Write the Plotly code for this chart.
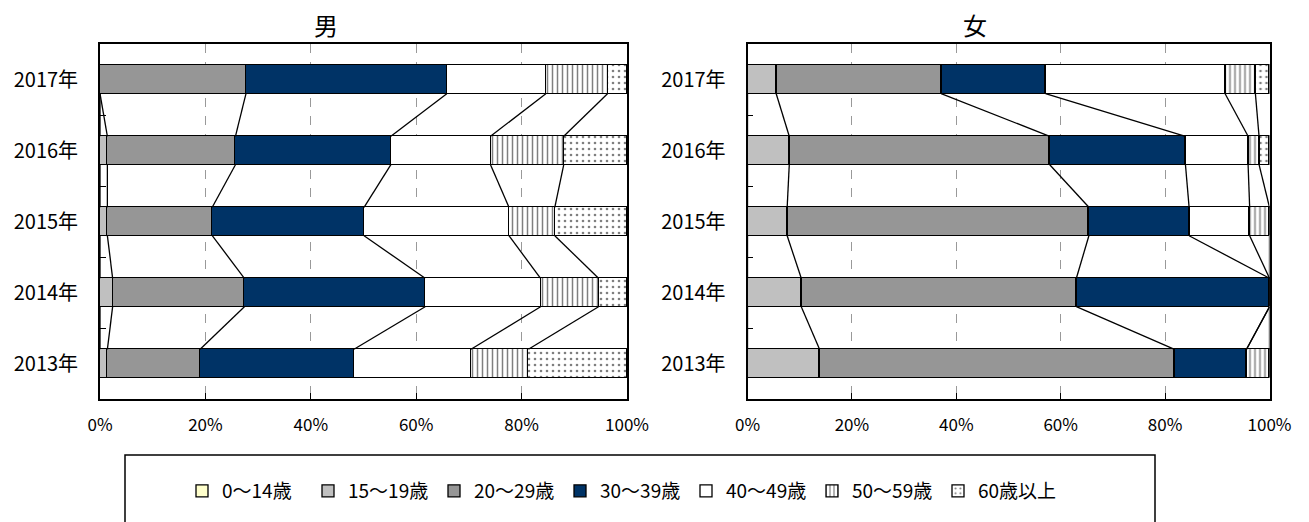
import plotly.graph_objects as go

W, H = 1309, 522

years = ['2013年', '2014年', '2015年', '2016年', '2017年']
groups = ['0～14歳', '15～19歳', '20～29歳', '30～39歳', '40～49歳', '50～59歳', '60歳以上']
x_ticks = [0, 20, 40, 60, 80, 100]
x_labels = ['0%', '20%', '40%', '60%', '80%', '100%']

# 男 (shares in %, years 2013..2017)
m_0_14 = [0, 0, 0, 0, 0]
m_15_19 = [1.4, 2.4, 1.4, 1.4, 0]
m_20_29 = [17.6, 25.0, 19.9, 24.3, 27.7]
m_30_39 = [29.2, 34.3, 28.8, 29.5, 38.1]
m_40_49 = [22.2, 21.9, 27.5, 18.9, 18.8]
m_50_59 = [10.9, 11.0, 8.7, 13.9, 11.7]
m_60 = [18.7, 5.4, 13.7, 12.0, 3.7]

# 女
f_0_14 = [0, 0, 0, 0, 0]
f_15_19 = [13.8, 10.3, 7.6, 8.0, 5.5]
f_20_29 = [68.0, 52.7, 57.8, 49.9, 31.6]
f_30_39 = [13.8, 37.0, 19.2, 26.0, 20.0]
f_40_49 = [0, 0, 11.6, 12.0, 34.4]
f_50_59 = [4.4, 0, 3.8, 2.1, 5.8]
f_60 = [0, 0, 0, 2.0, 2.7]

male = [m_0_14, m_15_19, m_20_29, m_30_39, m_40_49, m_50_59, m_60]
female = [f_0_14, f_15_19, f_20_29, f_30_39, f_40_49, f_50_59, f_60]

colors = ['#FFFFCC', '#C0C0C0', '#969696', '#003366', '#FFFFFF', '#FFFFFF', '#FFFFFF']
pats = [('', 8, 0.3), ('', 8, 0.3), ('', 8, 0.3), ('', 8, 0.3), ('', 8, 0.3),
        ('|', 5, 0.3), ('.', 6, 0.15)]

FONT = 'Noto Sans CJK JP, sans-serif'
BW = 0.4
pos = list(range(len(years)))

fig = go.Figure()


def add_side(data, xa, ya, show):
    for k, vals in enumerate(data):
        shp, sz, sol = pats[k]
        fig.add_trace(go.Bar(
            x=vals, y=pos, orientation='h', name=groups[k],
            width=BW, xaxis=xa, yaxis=ya,
            legendgroup=groups[k], showlegend=show,
            marker=dict(color=colors[k],
                        line=dict(color='black', width=1.3),
                        pattern=dict(shape=shp, fgcolor='black',
                                     bgcolor=colors[k], size=sz, solidity=sol)),
        ))
    # series lines between bars
    lx, ly = [], []
    cum = [0] * len(years)
    for k in range(len(data) - 1):
        cum = [c + v for c, v in zip(cum, data[k])]
        for i in range(len(years) - 1):
            lx += [cum[i], cum[i + 1], None]
            ly += [pos[i] + BW / 2, pos[i + 1] - BW / 2, None]
    fig.add_trace(go.Scatter(x=lx, y=ly, mode='lines', xaxis=xa, yaxis=ya,
                             line=dict(color='black', width=1.3),
                             showlegend=False, hoverinfo='skip'))


add_side(male, 'x', 'y', True)
add_side(female, 'x2', 'y2', False)

yt = 1 - 44 / H
yb = 1 - 399 / H


def xax(d0, d1, anchor):
    return dict(domain=[d0 / W, d1 / W], anchor=anchor, range=[0, 100],
                tickmode='array', tickvals=x_ticks, ticktext=x_labels,
                ticks='inside', ticklen=6, tickcolor='black',
                showgrid=True, gridcolor='#999999', griddash='dash', gridwidth=1,
                showline=True, linecolor='black', linewidth=1.5, mirror=True,
                zeroline=False, tickfont=dict(size=17, color='black'),
                ticklabelstandoff=10, fixedrange=True)


def yax(anchor):
    return dict(domain=[yb, yt], anchor=anchor, range=[-0.5, len(years) - 0.5],
                tickmode='array', tickvals=pos, ticktext=years, ticks='',
                minor=dict(tickmode='array', tickvals=[p + 0.5 for p in pos[:-1]],
                           ticks='inside', ticklen=6, tickcolor='black'),
                showgrid=False, zeroline=False,
                showline=True, linecolor='black', linewidth=1.8, mirror=True,
                tickfont=dict(size=20, color='black'), ticklabelstandoff=16)


fig.update_layout(
    width=W, height=H,
    margin=dict(l=0, r=0, t=0, b=0, autoexpand=False),
    paper_bgcolor='white', plot_bgcolor='white',
    barmode='stack', bargap=0,
    font=dict(family=FONT, color='black'),
    xaxis=xax(100, 627, 'y'), yaxis=yax('x'),
    xaxis2=xax(747.5, 1269.5, 'y2'), yaxis2=yax('x2'),
    legend=dict(orientation='h', x=182 / W, xanchor='left', y=1 - 491 / H, yanchor='middle',
                font=dict(size=19, color='black'), entrywidth=81, entrywidthmode='pixels',
                traceorder='normal', bgcolor='rgba(0,0,0,0)', itemclick=False),
    annotations=[
        dict(text='男', x=326 / W, y=1 - 25 / H, xref='paper', yref='paper',
             xanchor='center', yanchor='middle',
             showarrow=False, font=dict(size=24, color='black')),
        dict(text='女', x=975 / W, y=1 - 25 / H, xref='paper', yref='paper',
             xanchor='center', yanchor='middle',
             showarrow=False, font=dict(size=24, color='black')),
    ],
    shapes=[dict(type='rect', xref='paper', yref='paper',
                 x0=125 / W, x1=1155 / W, y0=-0.2, y1=1 - 455 / H,
                 line=dict(color='black', width=1.5))],
)

fig.write_html('out.html', config={'displayModeBar': False},
               post_script="document.body.style.margin='0';")
